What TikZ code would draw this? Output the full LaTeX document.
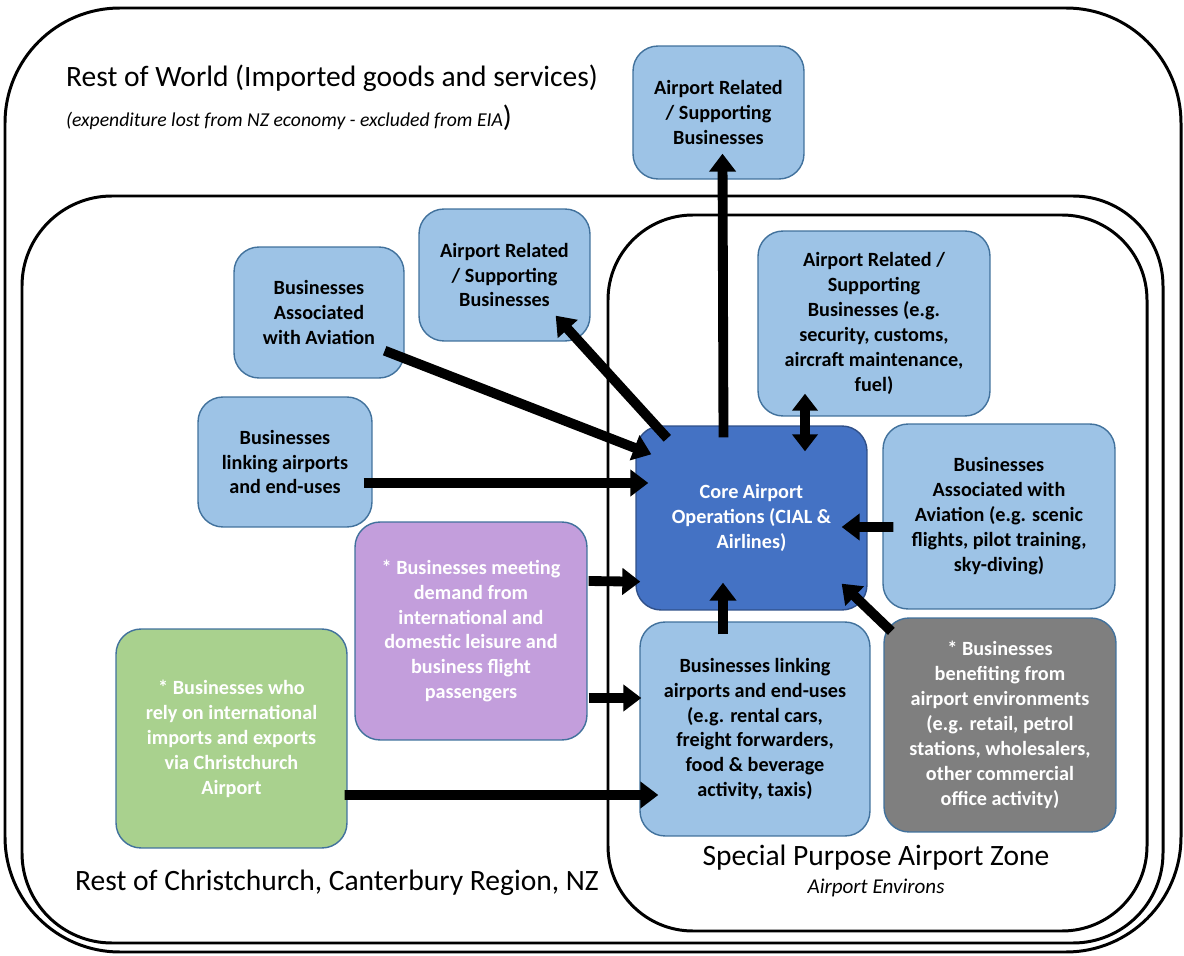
\documentclass[tikz,border=0pt]{standalone}
\usepackage{fontspec}
\setmainfont{Carlito}
\usetikzlibrary{arrows.meta}
\definecolor{boxblue}{HTML}{9DC3E6}
\definecolor{coreblue}{HTML}{4472C4}
\definecolor{edgeblue}{HTML}{41719C}
\definecolor{lilac}{HTML}{C39EDC}
\definecolor{leaf}{HTML}{A9D18E}
\definecolor{slate}{HTML}{7F7F7F}
\begin{document}
\begin{tikzpicture}[x=0.02cm,y=-0.02cm,line join=round,
	zone/.style={draw,line width=1.7pt},
	bizbox/.style={draw=edgeblue,line width=0.8pt,rounded corners=0.5cm,align=center,inner sep=0pt,
		font=\fontsize{11.5}{14.2}\selectfont\bfseries},
	pale/.style={bizbox,fill=boxblue},
	flow/.style={line width=5.6pt,-{Triangle[length=0.36cm,width=0.52cm]}},
	both/.style={line width=5.6pt,{Triangle[length=0.34cm,width=0.5cm]}-{Triangle[length=0.34cm,width=0.5cm]}},
	big/.style={font=\fontsize{16.8}{20}\selectfont}]
	%==khung (pixel units, y down)
	\useasboundingbox (0,0) rectangle (1184,956);
	\draw[zone,rounded corners=2.3cm] (5,8) rectangle (1181,952);
	\draw[zone,rounded corners=1.8cm] (22,196) rectangle (1163,943);
	\draw[zone,rounded corners=1.7cm] (608,215) rectangle (1147,931);
	%==nhan
	\node[big,anchor=west] (world) at (60,78) {Rest of World (Imported goods and services)};
	\node[anchor=west] (worldnote) at (60,118) {\fontsize{11.2}{12}\selectfont\itshape (expenditure lost from NZ economy - excluded from EIA\fontsize{16.8}{18}\selectfont\upshape)};
	\node[big] (region) at (337,883) {Rest of Christchurch, Canterbury Region, NZ};
	\node[big] (zonelbl) at (876,858) {Special Purpose Airport Zone};
	\node[font=\fontsize{12}{13}\selectfont\itshape] (zonenote) at (876,888) {Airport Environs};
	%==hop
	\node[pale,minimum width=3.42cm,minimum height=2.66cm] (top) at (718.5,112.5) {Airport Related\\/ Supporting\\Businesses};
	\node[pale,minimum width=3.42cm,minimum height=2.64cm] (relreg) at (504.5,275) {Airport Related\\/ Supporting\\Businesses};
	\node[pale,minimum width=3.4cm,minimum height=2.62cm] (avreg) at (319,312.5) {Businesses\\Associated\\with Aviation};
	\node[pale,minimum width=3.48cm,minimum height=2.6cm] (linkreg) at (285,462) {Businesses\\linking airports\\and end-uses};
	\node[bizbox,fill=lilac,text=white,minimum width=4.64cm,minimum height=4.36cm] (pax) at (471,631) {* Businesses meeting\\demand from\\international and\\domestic leisure and\\business flight\\passengers};
	\node[bizbox,fill=leaf,text=white,minimum width=4.62cm,minimum height=4.38cm] (trade) at (231.5,738.5) {* Businesses who\\rely on international\\imports and exports\\via Christchurch\\Airport};
	\node[bizbox,fill=coreblue,draw=coreblue!70!black,text=white,minimum width=4.62cm,minimum height=3.68cm] (core) at (751.5,518) {Core Airport\\Operations (CIAL \&\\Airlines)};
	\node[pale,minimum width=4.64cm,minimum height=3.7cm] (relzone) at (874,323.5) {Airport Related /\\Supporting\\Businesses (e.g.\\security, customs,\\aircraft maintenance,\\fuel)};
	\node[pale,minimum width=4.64cm,minimum height=3.7cm] (avzone) at (999,516.5) {Businesses\\Associated with\\Aviation (e.g. scenic\\flights, pilot training,\\sky-diving)};
	\node[pale,minimum width=4.6cm,minimum height=4.28cm] (linkzone) at (755,729) {Businesses linking\\airports and end-uses\\(e.g. rental cars,\\freight forwarders,\\food \& beverage\\activity, taxis)};
	\node[bizbox,fill=slate,text=white,minimum width=4.64cm,minimum height=4.28cm] (env) at (1000,725) {* Businesses\\benefiting from\\airport environments\\(e.g. retail, petrol\\stations, wholesalers,\\other commercial\\office activity)};
	%==mui ten
	\draw[flow] ([shift={(-28,12)}]core.north)--([shift={(4,-26)}]top.south);
	\draw[flow] ([shift={(32,13)}]core.north west)--([shift={(-35,-26)}]relreg.south east);
	\draw[flow] ([shift={(-20,-28)}]avreg.south east)--([shift={(16,29)}]core.north west);
	\draw[flow] ([shift={(-9,21)}]linkreg.east)--([shift={(13,-35)}]core.west);
	\draw[flow] ([shift={(1,-50)}]pax.east)--([shift={(5,-29)}]core.south west);
	\draw[flow] ([shift={(1,67)}]pax.east)--([shift={(2,-31)}]linkzone.west);
	\draw[flow] ([shift={(-3,56.5)}]trade.east)--([shift={(19,66)}]linkzone.west);
	\draw[flow] ([shift={(-32,13)}]linkzone.north)--([shift={(-28.5,-28)}]core.south);
	\draw[flow] ([shift={(8,14)}]env.north west)--([shift={(-26,-27)}]core.south east);
	\draw[flow] ([shift={(11,10.5)}]avzone.west)--([shift={(-26,9)}]core.east);
	\draw[both] ([shift={(-69,-23)}]relzone.south)--([shift={(53.5,26)}]core.north);
\end{tikzpicture}
\end{document}
